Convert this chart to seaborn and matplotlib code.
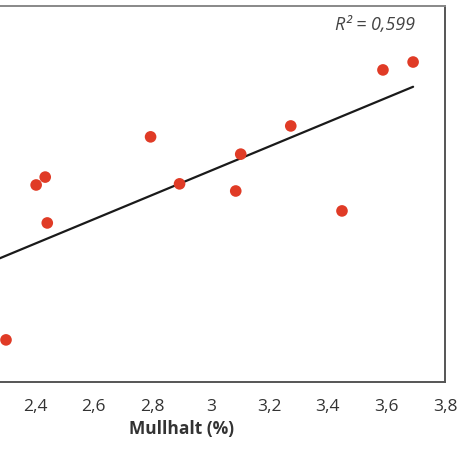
import numpy as np
import pandas as pd
import seaborn as sns
import matplotlib
matplotlib.use("Agg")
import matplotlib.pyplot as plt

# values read off the (cropped) scan; y axis is not visible, so arbitrary 0-100 units
mullhalt = [2.30, 2.403, 2.434, 2.441, 2.794, 2.893, 3.085, 3.102, 3.273, 3.448, 3.588, 3.691]
varde = [11.2, 52.4, 54.5, 42.3, 65.2, 52.7, 50.8, 60.6, 68.1, 45.5, 83.0, 85.1]

# fitted trend line as printed (slope / intercept)
fit_slope = 32.3
fit_intercept = -40.7
r2_text = "R\u00b2 = 0,599"

x_ticks = [2.4, 2.6, 2.8, 3.0, 3.2, 3.4, 3.6, 3.8]
x_ticklabels = ["2,4", "2,6", "2,8", "3", "3,2", "3,4", "3,6", "3,8"]

sns.set_style("white")
plt.rcParams["font.family"] = ["Open Sans", "DejaVu Sans"]

df = pd.DataFrame({"mullhalt": mullhalt, "varde": varde})

fig = plt.figure(figsize=(4.67, 4.57), dpi=100)
# axes extends past the left edge, like the cropped original
ax = fig.add_axes([-81.8 / 467, 75 / 457, (445 + 81.8) / 467, 376 / 457])

line_x = np.array([2.0, max(mullhalt)])
line_df = pd.DataFrame({"mullhalt": line_x, "varde": fit_intercept + fit_slope * line_x})
sns.lineplot(data=line_df, x="mullhalt", y="varde", color="#1a1a1a", linewidth=1.6, ax=ax, zorder=2)
sns.scatterplot(data=df, x="mullhalt", y="varde", color="#e03b26", s=70, edgecolor="none", ax=ax, zorder=3)

ax.set_xlim(2.0, 3.8)
ax.set_ylim(0, 100)
ax.set_xticks(x_ticks)
ax.set_xticklabels(x_ticklabels)
ax.set_yticks([])
ax.tick_params(axis="x", direction="out", length=6, width=1, color="#444444",
               labelsize=12.5, labelcolor="#333333", pad=6)
for side in ["left", "right", "top", "bottom"]:
    ax.spines[side].set_color("#555555")
    ax.spines[side].set_linewidth(1.4)
ax.spines["top"].set_color("#888888")

ax.set_xlabel("Mullhalt (%)", fontsize=12.5, fontweight="bold", color="#333333", labelpad=4)
ax.set_ylabel("")

ax.text(0.943, 0.95, r2_text, transform=ax.transAxes, ha="right", va="center",
        fontsize=13, style="italic", color="#444444")

fig.savefig("out.png", dpi=100)
